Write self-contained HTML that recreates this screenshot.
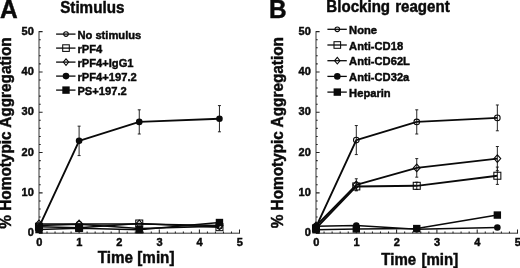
<!DOCTYPE html>
<html><head><meta charset="utf-8"><title>Figure</title>
<style>
html,body{margin:0;padding:0;background:#fff;}
body{width:520px;height:268px;overflow:hidden;}
svg{display:block;filter:blur(0.35px);}
svg text{font-family:'Liberation Sans', sans-serif;font-weight:bold;fill:#0a0a0a;stroke:#0a0a0a;stroke-width:0.45px;}
.tk{font-size:11.0px;}
.lg{font-size:11.7px;}
.ax{font-size:16.1px;}
.pl{font-size:26px;}
</style></head><body>
<svg width="520" height="268" viewBox="0 0 520 268">
<rect width="520" height="268" fill="#fff"/>
<text x="-0.1" y="17.8" class="pl" textLength="17.7" lengthAdjust="spacingAndGlyphs">A</text>
<text x="268.9" y="17.8" class="pl" textLength="17.6" lengthAdjust="spacingAndGlyphs">B</text>
<text x="60.2" y="12.5" class="ax" textLength="64.2" lengthAdjust="spacingAndGlyphs">Stimulus</text>
<text x="326.3" y="12.1" class="ax" textLength="123.4" lengthAdjust="spacingAndGlyphs" style="word-spacing:0.9px">Blocking reagent</text>
<text transform="translate(11.25 133.0) rotate(-90)" text-anchor="middle" class="ax" style="font-size:16.1px" textLength="191.3" lengthAdjust="spacingAndGlyphs">% Homotypic Aggregation</text>
<text transform="translate(282.8 132.7) rotate(-90)" text-anchor="middle" class="ax" style="font-size:15.8px" textLength="191.3" lengthAdjust="spacingAndGlyphs">% Homotypic Aggregation</text>
<text x="97.8" y="263.0" class="ax" textLength="76.7" lengthAdjust="spacingAndGlyphs">Time [min]</text>
<text x="381.3" y="264.6" class="ax" textLength="76.9" lengthAdjust="spacingAndGlyphs" style="word-spacing:1.3px">Time [min]</text>
<path d="M39.0 31.099999999999994V233.2H240.0" fill="none" stroke="#333" stroke-width="1"/>
<path d="M39.0 233.20h3.6M39.0 225.14h1.7M39.0 217.07h1.7M39.0 209.01h1.7M39.0 200.94h1.7M39.0 192.88h3.6M39.0 184.82h1.7M39.0 176.75h1.7M39.0 168.69h1.7M39.0 160.62h1.7M39.0 152.56h3.6M39.0 144.50h1.7M39.0 136.43h1.7M39.0 128.37h1.7M39.0 120.30h1.7M39.0 112.24h3.6M39.0 104.18h1.7M39.0 96.11h1.7M39.0 88.05h1.7M39.0 79.98h1.7M39.0 71.92h3.6M39.0 63.86h1.7M39.0 55.79h1.7M39.0 47.73h1.7M39.0 39.66h1.7M39.0 31.60h3.6M39.00 233.2v-3.6M47.02 233.2v-1.7M55.04 233.2v-1.7M63.06 233.2v-1.7M71.08 233.2v-1.7M79.10 233.2v-3.6M87.12 233.2v-1.7M95.14 233.2v-1.7M103.16 233.2v-1.7M111.18 233.2v-1.7M119.20 233.2v-3.6M127.22 233.2v-1.7M135.24 233.2v-1.7M143.26 233.2v-1.7M151.28 233.2v-1.7M159.30 233.2v-3.6M167.32 233.2v-1.7M175.34 233.2v-1.7M183.36 233.2v-1.7M191.38 233.2v-1.7M199.40 233.2v-3.6M207.42 233.2v-1.7M215.44 233.2v-1.7M223.46 233.2v-1.7M231.48 233.2v-1.7M239.50 233.2v-3.6" fill="none" stroke="#222" stroke-width="1.05"/>
<text x="33.8" y="236.30" class="tk" text-anchor="end">0</text>
<text x="33.8" y="195.98" class="tk" text-anchor="end">10</text>
<text x="33.8" y="155.66" class="tk" text-anchor="end">20</text>
<text x="33.8" y="115.34" class="tk" text-anchor="end">30</text>
<text x="33.8" y="75.02" class="tk" text-anchor="end">40</text>
<text x="33.8" y="34.70" class="tk" text-anchor="end">50</text>
<text x="39.2" y="245.7" class="tk" text-anchor="middle">0</text>
<text x="79.3" y="245.7" class="tk" text-anchor="middle">1</text>
<text x="119.4" y="245.7" class="tk" text-anchor="middle">2</text>
<text x="159.5" y="245.7" class="tk" text-anchor="middle">3</text>
<text x="199.6" y="245.7" class="tk" text-anchor="middle">4</text>
<text x="239.7" y="245.7" class="tk" text-anchor="middle">5</text>
<path d="M316.0 31.099999999999994V233.2H518.0" fill="none" stroke="#333" stroke-width="1"/>
<path d="M316.0 233.20h3.6M316.0 225.14h1.7M316.0 217.07h1.7M316.0 209.01h1.7M316.0 200.94h1.7M316.0 192.88h3.6M316.0 184.82h1.7M316.0 176.75h1.7M316.0 168.69h1.7M316.0 160.62h1.7M316.0 152.56h3.6M316.0 144.50h1.7M316.0 136.43h1.7M316.0 128.37h1.7M316.0 120.30h1.7M316.0 112.24h3.6M316.0 104.18h1.7M316.0 96.11h1.7M316.0 88.05h1.7M316.0 79.98h1.7M316.0 71.92h3.6M316.0 63.86h1.7M316.0 55.79h1.7M316.0 47.73h1.7M316.0 39.66h1.7M316.0 31.60h3.6M316.00 233.2v-3.6M324.06 233.2v-1.7M332.12 233.2v-1.7M340.18 233.2v-1.7M348.24 233.2v-1.7M356.30 233.2v-3.6M364.36 233.2v-1.7M372.42 233.2v-1.7M380.48 233.2v-1.7M388.54 233.2v-1.7M396.60 233.2v-3.6M404.66 233.2v-1.7M412.72 233.2v-1.7M420.78 233.2v-1.7M428.84 233.2v-1.7M436.90 233.2v-3.6M444.96 233.2v-1.7M453.02 233.2v-1.7M461.08 233.2v-1.7M469.14 233.2v-1.7M477.20 233.2v-3.6M485.26 233.2v-1.7M493.32 233.2v-1.7M501.38 233.2v-1.7M509.44 233.2v-1.7M517.50 233.2v-3.6" fill="none" stroke="#222" stroke-width="1.05"/>
<text x="310.8" y="236.30" class="tk" text-anchor="end">0</text>
<text x="310.8" y="195.98" class="tk" text-anchor="end">10</text>
<text x="310.8" y="155.66" class="tk" text-anchor="end">20</text>
<text x="310.8" y="115.34" class="tk" text-anchor="end">30</text>
<text x="310.8" y="75.02" class="tk" text-anchor="end">40</text>
<text x="310.8" y="34.70" class="tk" text-anchor="end">50</text>
<text x="316.2" y="245.7" class="tk" text-anchor="middle">0</text>
<text x="356.5" y="245.7" class="tk" text-anchor="middle">1</text>
<text x="396.8" y="245.7" class="tk" text-anchor="middle">2</text>
<text x="437.09999999999997" y="245.7" class="tk" text-anchor="middle">3</text>
<text x="477.4" y="245.7" class="tk" text-anchor="middle">4</text>
<text x="517.7" y="245.7" class="tk" text-anchor="middle">5</text>
<path d="M39.00 225.54L79.10 224.33L139.25 228.56L219.45 226.35" fill="none" stroke="#0a0a0a" stroke-width="1.5" stroke-linejoin="round"/>
<circle cx="39.00" cy="225.54" r="2.8" fill="none" stroke="#0a0a0a" stroke-width="1.05"/>
<circle cx="79.10" cy="224.33" r="2.8" fill="none" stroke="#0a0a0a" stroke-width="1.05"/>
<circle cx="139.25" cy="228.56" r="2.8" fill="none" stroke="#0a0a0a" stroke-width="1.05"/>
<circle cx="219.45" cy="226.35" r="2.8" fill="none" stroke="#0a0a0a" stroke-width="1.05"/>
<path d="M39.00 226.75L79.10 227.76L139.25 223.52L219.45 227.15" fill="none" stroke="#0a0a0a" stroke-width="1.5" stroke-linejoin="round"/>
<rect x="35.50" y="223.25" width="7.0" height="7.0" fill="none" stroke="#0a0a0a" stroke-width="1.05"/>
<rect x="75.60" y="224.26" width="7.0" height="7.0" fill="none" stroke="#0a0a0a" stroke-width="1.05"/>
<rect x="135.75" y="220.02" width="7.0" height="7.0" fill="none" stroke="#0a0a0a" stroke-width="1.05"/>
<rect x="215.95" y="223.65" width="7.0" height="7.0" fill="none" stroke="#0a0a0a" stroke-width="1.05"/>
<path d="M39.00 223.93L79.10 223.93L139.25 223.93L219.45 225.54" fill="none" stroke="#0a0a0a" stroke-width="1.5" stroke-linejoin="round"/>
<path d="M35.60 223.93L39.00 220.13L42.40 223.93L39.00 227.73Z" fill="none" stroke="#0a0a0a" stroke-width="1.05"/>
<path d="M75.70 223.93L79.10 220.13L82.50 223.93L79.10 227.73Z" fill="none" stroke="#0a0a0a" stroke-width="1.05"/>
<path d="M135.85 223.93L139.25 220.13L142.65 223.93L139.25 227.73Z" fill="none" stroke="#0a0a0a" stroke-width="1.05"/>
<path d="M216.05 225.54L219.45 221.74L222.85 225.54L219.45 229.34Z" fill="none" stroke="#0a0a0a" stroke-width="1.05"/>
<path d="M39.00 229.57L79.10 228.36L139.25 229.77L219.45 222.52" fill="none" stroke="#0a0a0a" stroke-width="1.5" stroke-linejoin="round"/>
<rect x="35.30" y="225.87" width="7.4" height="7.4" fill="#0a0a0a"/>
<rect x="75.40" y="224.66" width="7.4" height="7.4" fill="#0a0a0a"/>
<rect x="135.55" y="226.07" width="7.4" height="7.4" fill="#0a0a0a"/>
<rect x="215.75" y="218.82" width="7.4" height="7.4" fill="#0a0a0a"/>
<path d="M39.00 227.15L79.10 140.87L139.25 121.92L219.45 118.69" fill="none" stroke="#0a0a0a" stroke-width="1.9" stroke-linejoin="round"/>
<path d="M79.10 126.15V155.58M77.60 126.15h3M77.60 155.58h3M139.25 109.82V134.01M137.75 109.82h3M137.75 134.01h3M219.45 105.59V131.80M217.95 105.59h3M217.95 131.80h3" fill="none" stroke="#1a1a1a" stroke-width="0.95"/>
<circle cx="39.00" cy="227.15" r="3.3" fill="#0a0a0a"/>
<circle cx="79.10" cy="140.87" r="3.3" fill="#0a0a0a"/>
<circle cx="139.25" cy="121.92" r="3.3" fill="#0a0a0a"/>
<circle cx="219.45" cy="118.69" r="3.3" fill="#0a0a0a"/>
<path d="M56.1 34.10h19.4" stroke="#0a0a0a" stroke-width="1.3"/>
<circle cx="66.00" cy="34.10" r="2.3" fill="none" stroke="#0a0a0a" stroke-width="1.05"/>
<text x="77.4" y="38.70" class="lg" textLength="63.94" lengthAdjust="spacingAndGlyphs">No stimulus</text>
<path d="M56.1 48.10h19.4" stroke="#0a0a0a" stroke-width="1.3"/>
<rect x="62.70" y="44.80" width="6.6" height="6.6" fill="none" stroke="#0a0a0a" stroke-width="1.05"/>
<text x="77.4" y="52.70" class="lg" textLength="24.84" lengthAdjust="spacingAndGlyphs">rPF4</text>
<path d="M56.1 62.10h19.4" stroke="#0a0a0a" stroke-width="1.3"/>
<path d="M63.30 62.10L66.00 58.80L68.70 62.10L66.00 65.40Z" fill="none" stroke="#0a0a0a" stroke-width="1.05"/>
<text x="77.4" y="66.70" class="lg" textLength="56.2" lengthAdjust="spacingAndGlyphs">rPF4+IgG1</text>
<path d="M56.1 76.10h19.4" stroke="#0a0a0a" stroke-width="1.3"/>
<circle cx="66.00" cy="76.10" r="3.3" fill="#0a0a0a"/>
<text x="77.4" y="80.70" class="lg" textLength="59.33" lengthAdjust="spacingAndGlyphs">rPF4+197.2</text>
<path d="M56.1 90.10h19.4" stroke="#0a0a0a" stroke-width="1.3"/>
<rect x="62.30" y="86.40" width="7.4" height="7.4" fill="#0a0a0a"/>
<text x="77.4" y="94.70" class="lg" textLength="49.39" lengthAdjust="spacingAndGlyphs">PS+197.2</text>
<path d="M316.00 226.35L356.30 225.54L416.75 229.37L497.35 227.56" fill="none" stroke="#0a0a0a" stroke-width="1.5" stroke-linejoin="round"/>
<circle cx="316.00" cy="226.35" r="3.3" fill="#0a0a0a"/>
<circle cx="356.30" cy="225.54" r="3.3" fill="#0a0a0a"/>
<circle cx="416.75" cy="229.37" r="3.3" fill="#0a0a0a"/>
<circle cx="497.35" cy="227.56" r="3.3" fill="#0a0a0a"/>
<path d="M316.00 229.77L356.30 228.97L416.75 228.56L497.35 215.06" fill="none" stroke="#0a0a0a" stroke-width="1.6" stroke-linejoin="round"/>
<rect x="312.30" y="226.07" width="7.4" height="7.4" fill="#0a0a0a"/>
<rect x="352.60" y="225.27" width="7.4" height="7.4" fill="#0a0a0a"/>
<rect x="413.05" y="224.86" width="7.4" height="7.4" fill="#0a0a0a"/>
<rect x="493.65" y="211.36" width="7.4" height="7.4" fill="#0a0a0a"/>
<path d="M316.00 228.36L356.30 186.43L416.75 185.82L497.35 175.74" fill="none" stroke="#0a0a0a" stroke-width="1.9" stroke-linejoin="round"/>
<path d="M356.30 182.40V190.46M354.80 182.40h3M354.80 190.46h3M416.75 182.20V189.45M415.25 182.20h3M415.25 189.45h3M497.35 167.08V184.41M495.85 167.08h3M495.85 184.41h3" fill="none" stroke="#1a1a1a" stroke-width="0.95"/>
<rect x="312.50" y="224.86" width="7.0" height="7.0" fill="none" stroke="#0a0a0a" stroke-width="1.05"/>
<rect x="352.80" y="182.93" width="7.0" height="7.0" fill="none" stroke="#0a0a0a" stroke-width="1.05"/>
<rect x="413.25" y="182.32" width="7.0" height="7.0" fill="none" stroke="#0a0a0a" stroke-width="1.05"/>
<rect x="493.85" y="172.24" width="7.0" height="7.0" fill="none" stroke="#0a0a0a" stroke-width="1.05"/>
<path d="M316.00 225.94L356.30 184.82L416.75 167.88L497.35 158.61" fill="none" stroke="#0a0a0a" stroke-width="1.9" stroke-linejoin="round"/>
<path d="M356.30 178.77V190.86M354.80 178.77h3M354.80 190.86h3M416.75 158.61V177.16M415.25 158.61h3M415.25 177.16h3M497.35 146.51V170.70M495.85 146.51h3M495.85 170.70h3" fill="none" stroke="#1a1a1a" stroke-width="0.95"/>
<path d="M312.60 225.94L316.00 222.14L319.40 225.94L316.00 229.74Z" fill="none" stroke="#0a0a0a" stroke-width="1.05"/>
<path d="M352.90 184.82L356.30 181.02L359.70 184.82L356.30 188.62Z" fill="none" stroke="#0a0a0a" stroke-width="1.05"/>
<path d="M413.35 167.88L416.75 164.08L420.15 167.88L416.75 171.68Z" fill="none" stroke="#0a0a0a" stroke-width="1.05"/>
<path d="M493.95 158.61L497.35 154.81L500.75 158.61L497.35 162.41Z" fill="none" stroke="#0a0a0a" stroke-width="1.05"/>
<path d="M316.00 227.15L356.30 140.06L416.75 121.92L497.35 117.88" fill="none" stroke="#0a0a0a" stroke-width="1.9" stroke-linejoin="round"/>
<path d="M356.30 125.55V154.58M354.80 125.55h3M354.80 154.58h3M416.75 109.82V134.01M415.25 109.82h3M415.25 134.01h3M497.35 104.98V130.79M495.85 104.98h3M495.85 130.79h3" fill="none" stroke="#1a1a1a" stroke-width="0.95"/>
<circle cx="316.00" cy="227.15" r="2.8" fill="none" stroke="#0a0a0a" stroke-width="1.05"/>
<circle cx="356.30" cy="140.06" r="2.8" fill="none" stroke="#0a0a0a" stroke-width="1.05"/>
<circle cx="416.75" cy="121.92" r="2.8" fill="none" stroke="#0a0a0a" stroke-width="1.05"/>
<circle cx="497.35" cy="117.88" r="2.8" fill="none" stroke="#0a0a0a" stroke-width="1.05"/>
<path d="M327.4 29.30h19.4" stroke="#0a0a0a" stroke-width="1.3"/>
<circle cx="337.30" cy="29.30" r="2.3" fill="none" stroke="#0a0a0a" stroke-width="1.05"/>
<text x="349.1" y="33.90" class="lg" textLength="27.93" lengthAdjust="spacingAndGlyphs">None</text>
<path d="M327.4 45.00h19.4" stroke="#0a0a0a" stroke-width="1.3"/>
<rect x="334.00" y="41.70" width="6.6" height="6.6" fill="none" stroke="#0a0a0a" stroke-width="1.05"/>
<text x="349.1" y="49.60" class="lg" textLength="54.01" lengthAdjust="spacingAndGlyphs">Anti-CD18</text>
<path d="M327.4 60.70h19.4" stroke="#0a0a0a" stroke-width="1.3"/>
<path d="M334.60 60.70L337.30 57.40L340.00 60.70L337.30 64.00Z" fill="none" stroke="#0a0a0a" stroke-width="1.05"/>
<text x="349.1" y="65.30" class="lg" textLength="60.83" lengthAdjust="spacingAndGlyphs">Anti-CD62L</text>
<path d="M327.4 76.40h19.4" stroke="#0a0a0a" stroke-width="1.3"/>
<circle cx="337.30" cy="76.40" r="3.3" fill="#0a0a0a"/>
<text x="349.1" y="81.00" class="lg" textLength="60.22" lengthAdjust="spacingAndGlyphs">Anti-CD32a</text>
<path d="M327.4 92.10h19.4" stroke="#0a0a0a" stroke-width="1.3"/>
<rect x="333.60" y="88.40" width="7.4" height="7.4" fill="#0a0a0a"/>
<text x="349.1" y="96.70" class="lg" textLength="41.6" lengthAdjust="spacingAndGlyphs">Heparin</text>
</svg>
</body></html>
